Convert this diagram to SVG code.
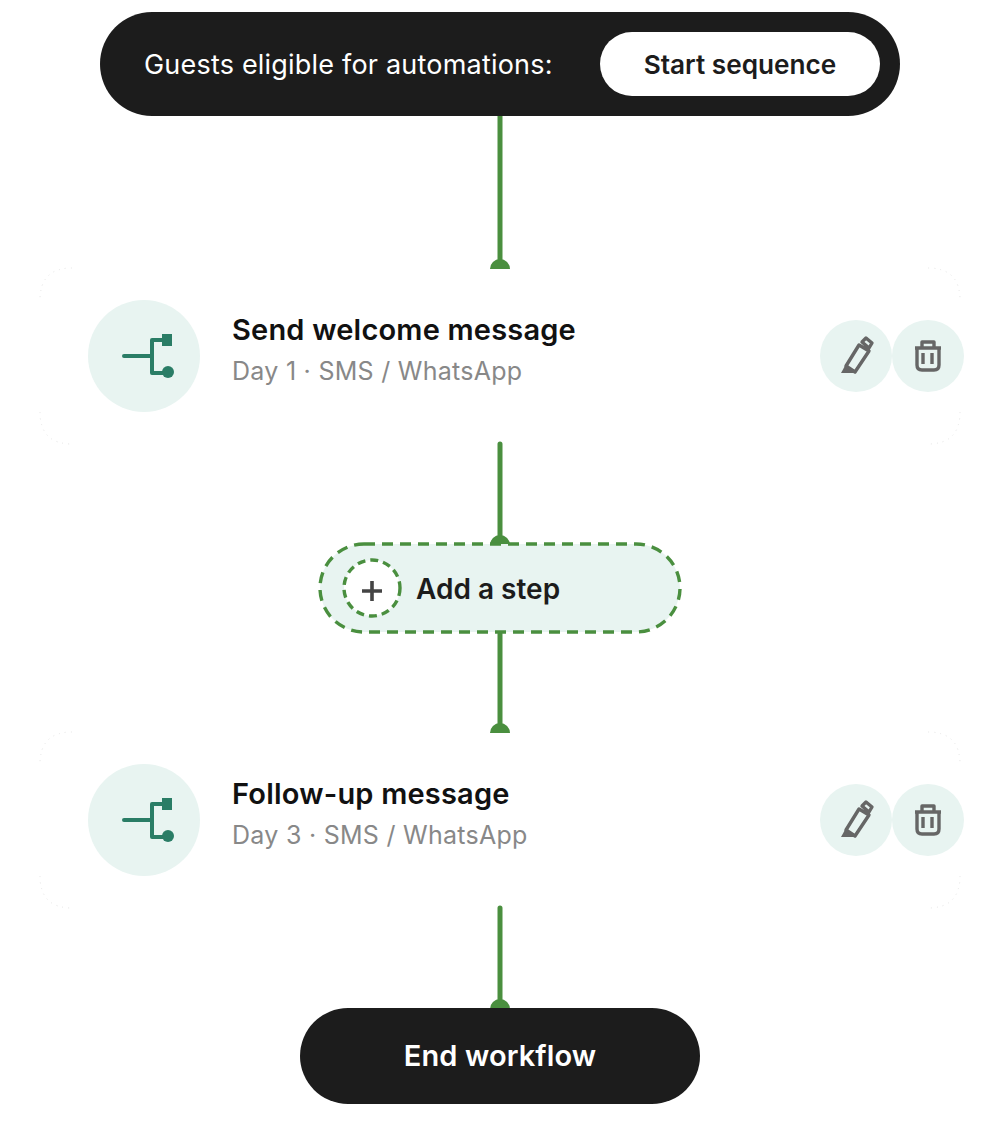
<svg xmlns="http://www.w3.org/2000/svg" xmlns:xlink="http://www.w3.org/1999/xlink" width="1000" height="1121" viewBox="0 0 1000 1121">
<style>
text{font-family:Inter,"Liberation Sans",sans-serif}
.conn{stroke:#4a8f3f;stroke-width:5;stroke-linecap:round;fill:none}
.dome{fill:#4a8f3f}
.dark{fill:#1c1c1c}
.tint{fill:#e8f4f1}
.title{font-size:29px;font-weight:600;fill:#111;letter-spacing:.2px}
.sub{font-size:25px;fill:#888;letter-spacing:.27px}
.ic{stroke:#666;stroke-width:3.4;fill:none;stroke-linejoin:round}
.flow{stroke:#2a7d66;stroke-width:4;fill:none;stroke-linejoin:round;stroke-linecap:round}
.corner{fill:none;stroke:#e6e6e6;stroke-width:1;stroke-dasharray:1 5}
</style>
<defs>
<g id="flowicon"><circle cx="144" cy="356" r="56" class="tint"/><path class="flow" d="M124 356H152M168 340H152V373H168"/><rect x="162" y="334" width="10" height="12" fill="#2a7d66"/><circle cx="168" cy="372" r="6" fill="#2a7d66"/></g>
<g id="actions"><circle cx="856" cy="356" r="36" class="tint"/><circle cx="928" cy="356" r="36" class="tint"/>
<path class="ic" d="M862 342L866 338L872 343L869 348ZM859 345L869 351L855 372L846 366Z"/>
<path d="M846 364L841 373L855 373Z" fill="#666"/>
<path class="ic" d="M915 348H941M922 348V342H934V348M917 348V365Q917 370 922 370H934Q939 370 939 365V348M923 353V364M932 353V364"/></g>
<path id="cardedge" class="corner" d="M72 268Q40 268 40 300M40 412Q40 444 72 444M928 268Q960 268 960 300M960 412Q960 444 928 444"/>
</defs>
<g id="connectors">
<path class="conn" d="M500 114V262M500 444V540M500 634V726M500 908V1004"/>
<path class="dome" d="M490 269a10 10 0 0 1 20 0zM490 545a10 10 0 0 1 20 0zM490 733a10 10 0 0 1 20 0zM490 1009a10 10 0 0 1 20 0z"/>
</g>
<g id="start">
<rect x="100" y="12" width="800" height="104" rx="52" class="dark"/>
<text x="144" y="74" font-size="27" letter-spacing=".2" fill="#fff">Guests eligible for automations:</text>
<rect x="600" y="32" width="280" height="64" rx="32" fill="#fff"/>
<text x="740" y="74" font-size="26.2" font-weight="600" fill="#1c1c1c" text-anchor="middle">Start sequence</text>
</g>
<g id="step1">
<use xlink:href="#cardedge"/>
<use xlink:href="#flowicon"/>
<text x="232" y="340" class="title">Send welcome message</text>
<text x="232" y="380" class="sub">Day 1 · SMS / WhatsApp</text>
<use xlink:href="#actions"/>
</g>
<g id="add">
<rect x="320" y="544" width="360" height="88" rx="44" class="tint" stroke="#4a8f3f" stroke-width="3.4" stroke-dasharray="11 7"/>
<circle cx="372" cy="588" r="28" fill="#fff" stroke="#4a8f3f" stroke-width="3.4" stroke-dasharray="8 5"/>
<path d="M362 591H382M372 581V601" stroke="#444" stroke-width="3.6" fill="none"/>
<text x="416" y="598.5" font-size="28" font-weight="600" fill="#1c1c1c">Add a step</text>
</g>
<g id="step2">
<use xlink:href="#cardedge" y="464"/>
<use xlink:href="#flowicon" y="464"/>
<text x="232" y="804" class="title">Follow-up message</text>
<text x="232" y="844" class="sub">Day 3 · SMS / WhatsApp</text>
<use xlink:href="#actions" y="464"/>
</g>
<g id="end">
<rect x="300" y="1008" width="400" height="96" rx="48" class="dark"/>
<text x="500" y="1066" font-size="29" letter-spacing=".1" font-weight="600" fill="#fff" text-anchor="middle">End workflow</text>
</g>
</svg>
